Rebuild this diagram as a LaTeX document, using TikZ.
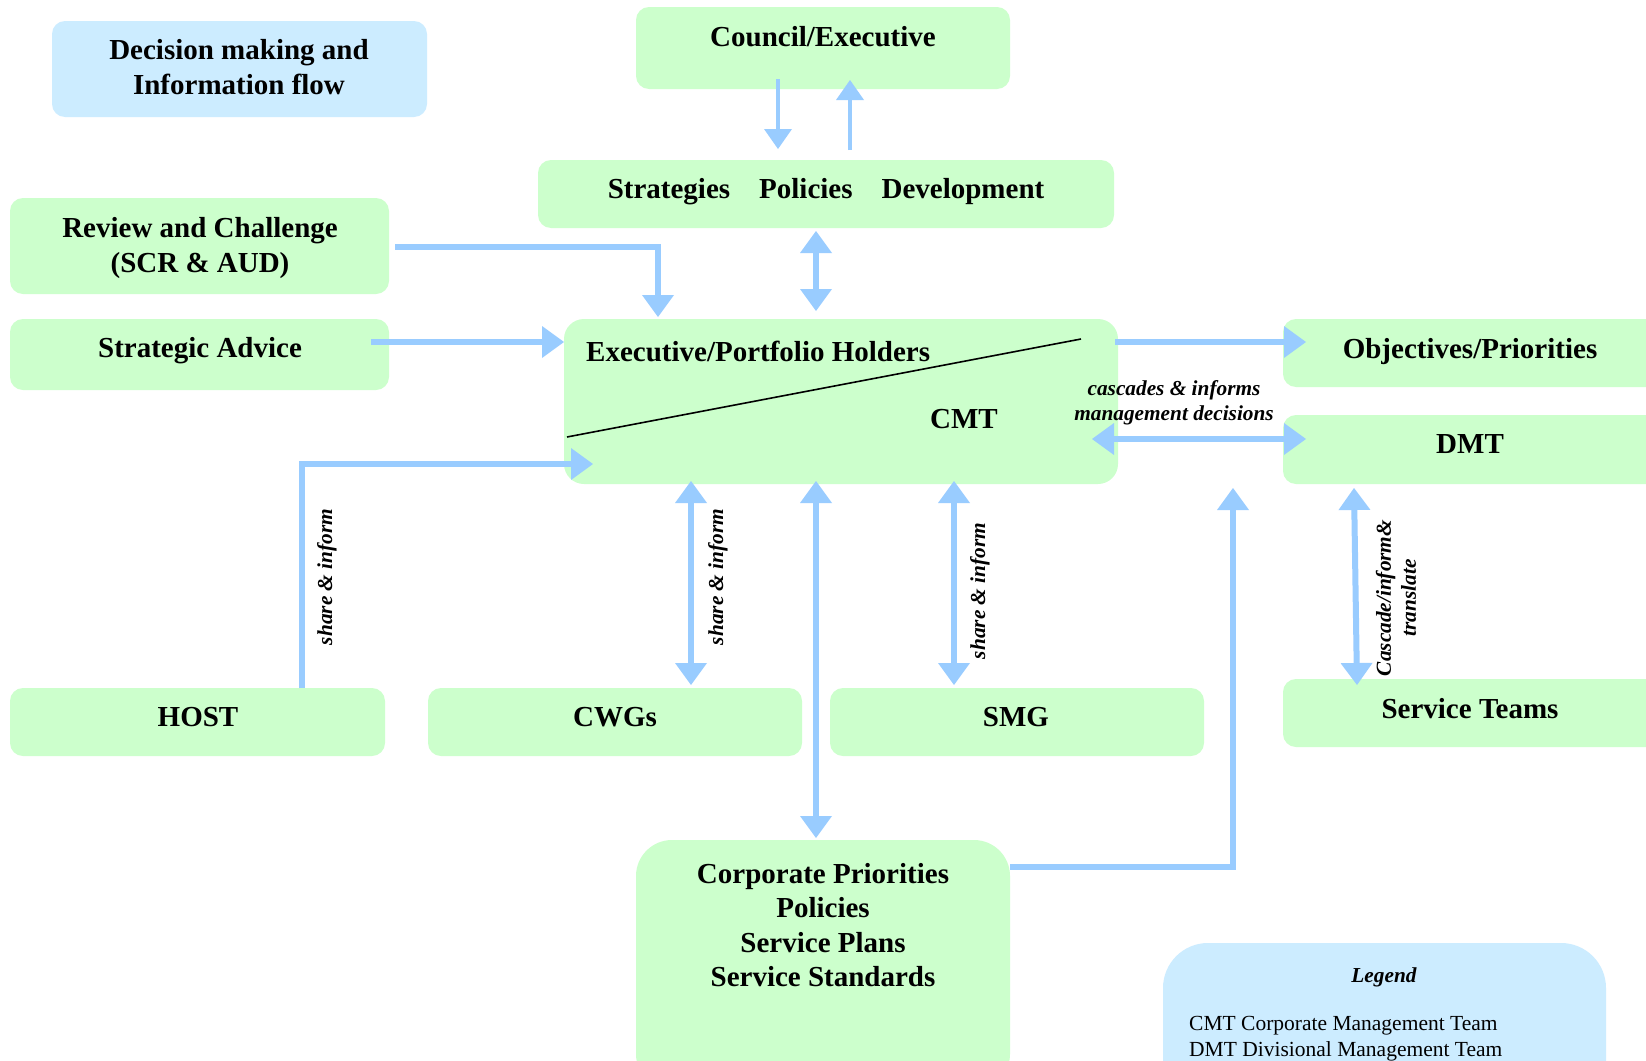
\documentclass[tikz,border=0pt]{standalone}
\usepackage{fontspec}
\setmainfont{Liberation Serif}
\usetikzlibrary{arrows.meta}
\definecolor{boxgreen}{HTML}{CCFFCC}
\definecolor{boxblue}{HTML}{CCECFF}
\definecolor{arrowblue}{HTML}{99CCFF}
\begin{document}
\begin{tikzpicture}[x=1pt,y=-1pt,
  gbox/.style={fill=boxgreen, draw=none, rounded corners=13pt, anchor=north west, inner sep=0pt, outer sep=0pt},
  bbox/.style={gbox, fill=boxblue},
  big/.style={font=\fontsize{29}{34.5}\selectfont\bfseries, align=center, inner sep=0pt},
  itl/.style={font=\fontsize{21.3}{25}\selectfont\bfseries\itshape, align=center, inner sep=0pt},
  reg/.style={font=\fontsize{21.5}{26}\selectfont, align=left, inner sep=0pt},
  tipb/.tip={Triangle[width=32pt,length=22pt,line width=0pt]},
  tips/.tip={Triangle[width=28pt,length=20pt,line width=0pt]},
  arr/.style={draw=arrowblue, line width=6pt, line join=miter, -tipb},
  darr/.style={arr, tipb-tipb},
  tarr/.style={draw=arrowblue, line width=4pt, -tips},
]
\clip (0,0) rectangle (1646,1060);
\fill[white] (0,0) rectangle (1646,1060);

% boxes
\node[bbox, minimum width=375pt, minimum height=96pt] (title) at (52,21) {};
\node[gbox, minimum width=374pt, minimum height=82pt] (council) at (636,7) {};
\node[gbox, minimum width=576pt, minimum height=68pt] (strat) at (538,160) {};
\node[gbox, minimum width=379pt, minimum height=96pt] (review) at (10,198) {};
\node[gbox, minimum width=379pt, minimum height=71pt] (advice) at (10,319) {};
\node[gbox, minimum width=554pt, minimum height=165pt, rounded corners=20pt] (exec) at (564,319) {};
\node[gbox, minimum width=420pt, minimum height=68pt] (obj) at (1283,319) {};
\node[gbox, minimum width=420pt, minimum height=69pt] (dmt) at (1283,415) {};
\node[gbox, minimum width=375pt, minimum height=68pt] (host) at (10,688) {};
\node[gbox, minimum width=374pt, minimum height=68pt] (cwg) at (428,688) {};
\node[gbox, minimum width=374pt, minimum height=68pt] (smg) at (830,688) {};
\node[gbox, minimum width=420pt, minimum height=68pt] (serv) at (1283,679) {};
\node[gbox, minimum width=374pt, minimum height=250pt, rounded corners=36pt] (corp) at (636,840) {};
\node[bbox, minimum width=443pt, minimum height=180pt, rounded corners=45pt] (legend) at (1163,943) {};

% texts
\node[big] (titletxt) at (239,67) {Decision making and\\Information flow};
\node[big] (counciltxt) at (823,37) {Council/Executive};
\node[big] (strattxt) at (826,192) {Strategies\hspace{29pt}Policies\hspace{29pt}Development};
\node[big] (reviewtxt) at (200,248) {Review and Challenge\\(SCR \& AUD)};
\node[big] (advicetxt) at (200,351) {Strategic Advice};
\node[big, anchor=west] (exectxt) at (586,351) {Executive/Portfolio Holders};
\node[big] (cmttxt) at (964,419) {CMT};
\node[big] (objtxt) at (1470,352) {Objectives/Priorities};
\node[big] (dmttxt) at (1470,444) {DMT};
\node[big] (hosttxt) at (198,717) {HOST};
\node[big] (cwgtxt) at (615,717) {CWGs};
\node[big] (smgtxt) at (1016,717) {SMG};
\node[big] (servtxt) at (1470,709) {Service Teams};
\node[big] (corptxt) at (823,925) {Corporate Priorities\\Policies\\Service Plans\\Service Standards};
\node[itl] (legendtxt) at (1384,977) {Legend};
\node[reg, anchor=north west] (legendlist) at (1189,1016) {CMT Corporate Management Team\\DMT Divisional Management Team};

% diagonal in exec box
\coordinate (d1) at (567,437);
\coordinate (d2) at (1081,339);
\draw[black, line width=1.6pt] (d1) -- (d2);

% arrows council <-> strategies
\coordinate (c1) at (778,79);  \coordinate (c2) at (778,149);
\coordinate (c3) at (850,150); \coordinate (c4) at (850,80);
\draw[tarr] (c1) -- (c2);
\draw[tarr] (c3) -- (c4);

% strategies <-> exec
\coordinate (s1) at (816,231); \coordinate (s2) at (816,311);
\draw[darr] (s1) -- (s2);

% review -> exec
\coordinate (r1) at (395,247); \coordinate (r2) at (658,247); \coordinate (r3) at (658,317);
\draw[arr] (r1) -- (r2) -- (r3);

% advice -> exec
\coordinate (a1) at (371,342); \coordinate (a2) at (564,342);
\draw[arr] (a1) -- (a2);

% exec -> objectives
\coordinate (o1) at (1115,342); \coordinate (o2) at (1306,342);
\draw[arr] (o1) -- (o2);

% cmt <-> dmt
\coordinate (m1) at (1092,439); \coordinate (m2) at (1306,439);
\draw[darr] (m1) -- (m2);
\node[itl] (cascade) at (1174,403) {cascades \& informs\\management decisions};

% host -> exec
\coordinate (h1) at (302,688); \coordinate (h2) at (302,464); \coordinate (h3) at (593,464);
\draw[arr] (h1) -- (h2) -- (h3);
\node[itl, rotate=90] (hostlbl) at (327,577) {share \& inform};

% cwg <-> exec
\coordinate (w1) at (691,481); \coordinate (w2) at (691,685);
\draw[darr] (w1) -- (w2);
\node[itl, rotate=90] (cwglbl) at (718,577) {share \& inform};

% corp <-> exec
\coordinate (p1) at (816,481); \coordinate (p2) at (816,838);
\draw[darr] (p1) -- (p2);

% smg <-> exec
\coordinate (g1) at (954,481); \coordinate (g2) at (954,685);
\draw[darr] (g1) -- (g2);
\node[itl, rotate=90] (smglbl) at (980,591) {share \& inform};

% dmt <-> service teams
\coordinate (t1) at (1354,488); \coordinate (t2) at (1357,685);
\draw[darr] (t1) -- (t2);
\node[itl, rotate=90] (servlbl) at (1396,598) {Cascade/inform\&\\translate};

% corp -> up
\coordinate (k1) at (1010,867); \coordinate (k2) at (1233,867); \coordinate (k3) at (1233,488);
\draw[arr] (k1) -- (k2) -- (k3);
\end{tikzpicture}
\end{document}
